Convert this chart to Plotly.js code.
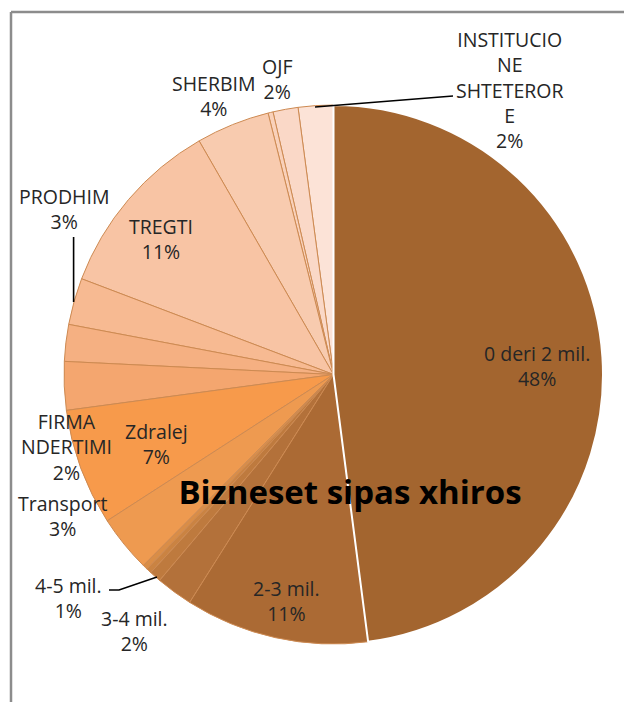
<!DOCTYPE html>
<html>
<head>
<meta charset="utf-8">
<script src="https://cdn.plot.ly/plotly-3.0.1.min.js"></script>
<style>html,body{margin:0;padding:0;background:#fff;}#chart{width:624px;height:702px;}</style>
</head>
<body>
<div id="chart"></div>
<script>
// Data, clockwise from 12 o'clock
const labels = ["0 deri 2 mil.", "2-3 mil.", "3-4 mil.", "4-5 mil.", "pa etiketë 1", "pa etiketë 2",
  "Transport", "Zdralej", "pa etiketë 3", "FIRMA NDERTIMI", "PRODHIM", "TREGTI", "SHERBIM",
  "pa etiketë 4", "OJF", "INSTITUCIONE SHTETERORE"];
const values = [47.9, 11.0, 2.2, 0.7, 0.3, 0.3, 3.4, 7.0, 2.9, 2.2, 2.8, 10.9, 4.4, 0.3, 1.5, 2.1];
const colors = ["#A3652F", "#AB6A34", "#B3713A", "#BE7A3E", "#CA8342", "#D98D47",
  "#EE9A50", "#F79A4B", "#F4A66F", "#F5B082", "#F7BA92", "#F8C4A4", "#F8CBAF",
  "#F9D1BA", "#FAD8C7", "#FCE3D7"];
const shown = ["0 deri 2 mil.", "2-3 mil.", "3-4 mil.", "4-5 mil.", "Transport", "Zdralej",
  "FIRMA NDERTIMI", "PRODHIM", "TREGTI", "SHERBIM", "OJF", "INSTITUCIONE SHTETERORE"];
const chartTitle = "Bizneset sipas xhiros";

// Layout helpers (pixel -> paper)
const M = {l: 64, r: 21, t: 105, b: 58};
const S = 539;
const px = x => (x - M.l) / S;
const py = y => (702 - M.b - y) / S;

const labelPos = {
  "0 deri 2 mil.": {x: 537, y: 366},
  "2-3 mil.": {x: 286, y: 600.5},
  "3-4 mil.": {x: 134.5, y: 630.5},
  "4-5 mil.": {x: 68.5, y: 597.5},
  "Transport": {x: 62, y: 515.5},
  "Zdralej": {x: 156, y: 443.5},
  "FIRMA NDERTIMI": {x: 66, y: 446.5, wrap: ["FIRMA", "NDERTIMI"]},
  "PRODHIM": {x: 64, y: 209},
  "TREGTI": {x: 161, y: 239.5},
  "SHERBIM": {x: 213.5, y: 96},
  "OJF": {x: 277, y: 79},
  "INSTITUCIONE SHTETERORE": {x: 509, y: 89.5, wrap: ["INSTITUCIO", "NE", "SHTETEROR", "E"]}
};

const total = values.reduce((a, b) => a + b, 0);

// reverse for counterclockwise drawing so the first slice is drawn last (on top)
const rl = labels.slice().reverse();
const rv = values.slice().reverse();
const rc = colors.slice().reverse();
const lineColors = rl.map(l => l === labels[0] ? "#FFFFFF" : "#CD8A52");
const lineWidths = rl.map(l => l === labels[0] ? 2 : 1);

const trace = {
  type: "pie",
  labels: rl,
  values: rv,
  sort: false,
  direction: "counterclockwise",
  rotation: -360 * rv[0] / total,
  textinfo: "none",
  hoverinfo: "label+percent",
  marker: {colors: rc, line: {color: lineColors, width: lineWidths}},
  showlegend: false
};

const labelFont = {family: "'Open Sans', sans-serif", size: 19.5, color: "#262626"};

const annotations = shown.map(name => {
  const i = labels.indexOf(name);
  const p = labelPos[name];
  const pct = Math.round(values[i] / total * 100) + "%";
  const head = p.wrap ? p.wrap.join("<br>") : name;
  return {
    xref: "paper", yref: "paper", x: px(p.x), y: py(p.y),
    xanchor: "center", yanchor: "middle", showarrow: false,
    text: head + "<br>" + pct,
    font: labelFont
  };
});

const leader = (pts) => ({
  type: "path", xref: "paper", yref: "paper",
  path: "M" + pts.map(p => px(p[0]) + "," + py(p[1])).join(" L"),
  line: {color: "#000000", width: 1.6}
});

const shapes = [
  leader([[315, 107], [453, 96]]),
  leader([[73.6, 237], [73.6, 302]]),
  leader([[109, 590], [119, 590], [157, 577]]),
  {type: "line", xref: "paper", yref: "paper", x0: px(11), y0: py(12), x1: px(630), y1: py(12),
   line: {color: "#8C8C8C", width: 2.5}},
  {type: "line", xref: "paper", yref: "paper", x0: px(11), y0: py(12), x1: px(11), y1: py(710),
   line: {color: "#8C8C8C", width: 2.5}}
];

const layout = {
  width: 624, height: 702,
  margin: M,
  paper_bgcolor: "#FFFFFF",
  title: {
    text: "<b>" + chartTitle + "</b>",
    font: {family: "'Open Sans', sans-serif", size: 33, color: "#000000"},
    x: 350 / 624, xanchor: "center", xref: "container",
    y: 1 - 492 / 702, yanchor: "middle", yref: "container"
  },
  annotations: annotations,
  shapes: shapes
};

Plotly.newPlot("chart", [trace], layout, {displayModeBar: false, staticPlot: true});
</script>
</body>
</html>
